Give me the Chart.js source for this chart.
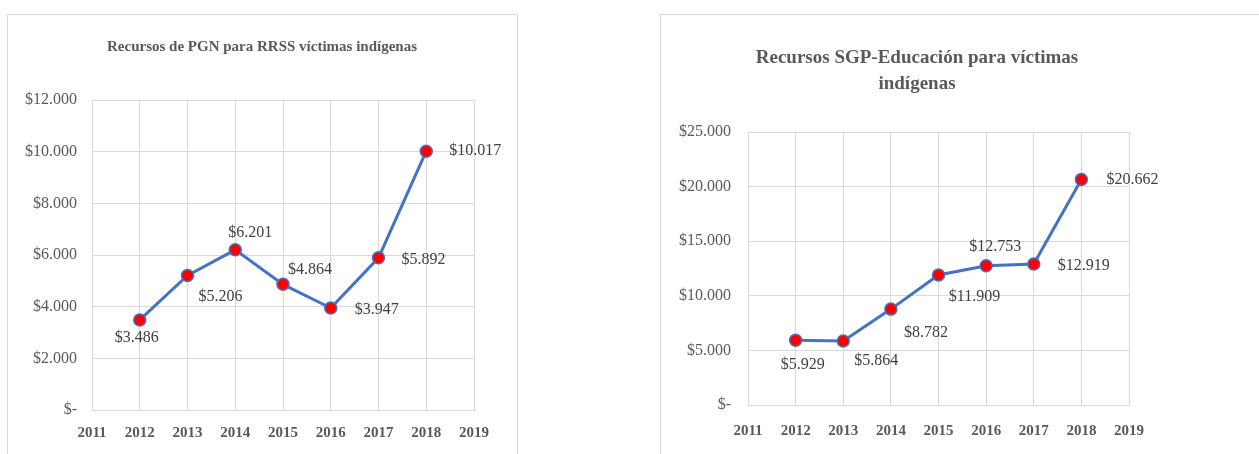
<!DOCTYPE html>
<html>
<head>
<meta charset="utf-8">
<script src="https://cdn.jsdelivr.net/npm/chart.js@4"></script>
<style>
  html, body { margin: 0; padding: 0; background: #fff; overflow: hidden; }
  body { width: 1259px; height: 454px; position: relative; }
  .frame { position: absolute; border: 1px solid #d9d9d9; box-sizing: border-box; }
  .box { position: absolute; }
</style>
</head>
<body>
<div class="frame" style="left:7px; top:14px; width:511px; height:460px;"></div>
<div class="frame" style="left:660px; top:14px; width:700px; height:460px;"></div>
<div class="box" style="left:7px; top:14px; width:510px; height:440px;"><canvas id="pgnChart"></canvas></div>
<div class="box" style="left:660px; top:14px; width:514px; height:440px;"><canvas id="sgpChart"></canvas></div>
<script>
// data
const years = [2012, 2013, 2014, 2015, 2016, 2017, 2018];
const pgnValues = [3486, 5206, 6201, 4864, 3947, 5892, 10017];
const sgpValues = [5929, 5864, 8782, 11909, 12753, 12919, 20662];
const xTickYears = [2011, 2012, 2013, 2014, 2015, 2016, 2017, 2018, 2019];
const pgnYTicks = [0, 2000, 4000, 6000, 8000, 10000, 12000];
const sgpYTicks = [0, 5000, 10000, 15000, 20000, 25000];

// where each value label sits relative to its point (px)
const pgnLabelOffsets = [[-3, 18], [33, 21], [15, -17], [27, -15], [46, 2], [45, 2], [49, 0]];
const sgpLabelOffsets = [[7, 25], [33, 20], [35, 24], [36, 22], [9, -19], [50, 2], [51, 0]];

const serif = "'Liberation Serif', 'Times New Roman', serif";

function money(v) {
    if (v === 0) return '$-';
    return '$' + String(v).replace(/\B(?=(\d{3})+(?!\d))/g, '.');
}

const valueLabels = {
    id: 'valueLabels',
    afterDatasetsDraw(chart) {
        const ctx = chart.ctx;
        const offsets = chart.options.plugins.valueLabels.offsets;
        const meta = chart.getDatasetMeta(0);
        ctx.save();
        ctx.font = '16px ' + serif;
        ctx.fillStyle = '#404040';
        ctx.textAlign = 'center';
        ctx.textBaseline = 'middle';
        meta.data.forEach((pt, i) => {
            const v = chart.data.datasets[0].data[i].y;
            ctx.fillText(money(v), pt.x + offsets[i][0], pt.y + offsets[i][1]);
        });
        ctx.restore();
    }
};

function makeChart(id, cfg) {
    const ctx = document.getElementById(id).getContext('2d');
    return new Chart(ctx, {
        type: 'line',
        data: {
            datasets: [{
                data: years.map((y, i) => ({ x: y, y: cfg.values[i] })),
                borderColor: '#4472C4',
                borderWidth: 3,
                pointRadius: 6,
                pointHoverRadius: 6,
                pointBackgroundColor: '#FF0000',
                pointBorderColor: '#4472C4',
                pointBorderWidth: 1.5,
                tension: 0
            }]
        },
        options: {
            responsive: true,
            maintainAspectRatio: false,
            animation: false,
            layout: { padding: 0 },
            plugins: {
                legend: { display: false },
                tooltip: { enabled: false },
                title: {
                    display: true,
                    text: cfg.title,
                    color: '#595959',
                    font: { family: serif, size: cfg.titleSize, weight: 'bold', lineHeight: cfg.titleLineHeight },
                    padding: { top: cfg.titleTop, bottom: cfg.titleBottom }
                },
                valueLabels: { offsets: cfg.offsets }
            },
            scales: {
                x: {
                    type: 'linear',
                    min: xTickYears[0],
                    max: xTickYears[xTickYears.length - 1],
                    afterBuildTicks: (scale) => { scale.ticks = xTickYears.map(v => ({ value: v })); },
                    afterFit: (scale) => { scale.height = cfg.xHeight; },
                    grid: { color: '#d9d9d9', drawTicks: false },
                    border: { color: '#d9d9d9' },
                    ticks: {
                        padding: cfg.xPad,
                        color: '#595959',
                        font: { family: serif, size: 15, weight: 'bold' },
                        callback: (v) => String(v)
                    }
                },
                y: {
                    min: 0,
                    max: cfg.yTicks[cfg.yTicks.length - 1],
                    afterBuildTicks: (scale) => { scale.ticks = cfg.yTicks.map(v => ({ value: v })); },
                    afterFit: (scale) => { scale.width = cfg.yWidth; },
                    grid: { color: '#d9d9d9', drawTicks: false },
                    border: { color: '#d9d9d9' },
                    ticks: {
                        padding: cfg.yPad,
                        color: '#595959',
                        font: { family: serif, size: 16 },
                        callback: (v) => money(v)
                    }
                },
                // empty right-hand axis, only to keep room for the last value labels
                spacer: {
                    position: 'right',
                    grid: { display: false, drawTicks: false },
                    border: { display: false },
                    ticks: { display: false },
                    afterFit: (scale) => { scale.width = cfg.padRight; }
                }
            }
        },
        plugins: [valueLabels]
    });
}

makeChart('pgnChart', {
    values: pgnValues,
    yTicks: pgnYTicks,
    offsets: pgnLabelOffsets,
    title: 'Recursos de PGN para RRSS víctimas indígenas',
    titleSize: 15, titleLineHeight: 1.2, titleTop: 24, titleBottom: 44,
    padRight: 43, xHeight: 44, xPad: 14, yWidth: 85, yPad: 15
});

makeChart('sgpChart', {
    values: sgpValues,
    yTicks: sgpYTicks,
    offsets: sgpLabelOffsets,
    title: ['Recursos SGP-Educación para víctimas', 'indígenas'],
    titleSize: 19, titleLineHeight: 1.37, titleTop: 31, titleBottom: 35,
    padRight: 45, xHeight: 49, xPad: 17, yWidth: 88, yPad: 17
});
</script>
</body>
</html>
